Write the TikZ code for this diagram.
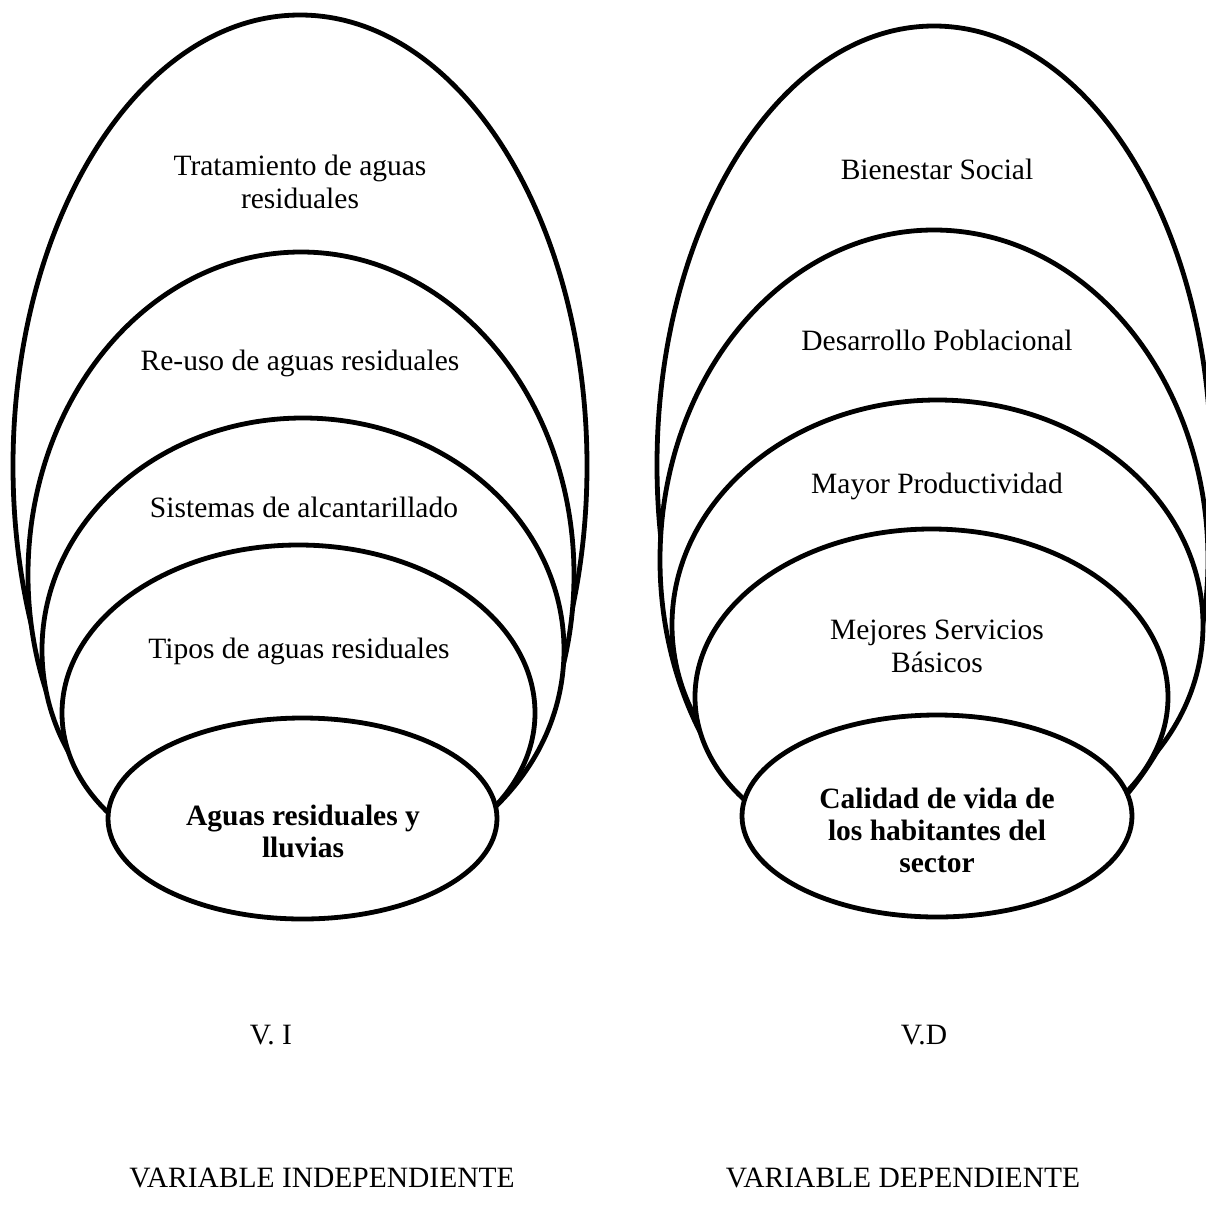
\documentclass[tikz,border=0pt]{standalone}
\usepackage{fontspec}
\setmainfont{Liberation Serif}
\usetikzlibrary{shapes.geometric}
\begin{document}
\begin{tikzpicture}[x=1pt,y=-1pt,
  ring/.style={ellipse,draw=black,fill=white,line width=4.8pt,inner sep=0pt,outer sep=0pt},
  lbl/.style={align=center,inner sep=0pt,font=\fontsize{29.5}{33}\selectfont},
  blbl/.style={lbl,font=\fontsize{29.5}{32}\selectfont\bfseries}]
\useasboundingbox[fill=white] (0,0) rectangle (1206,1208);
% left group
\node[ring,minimum width=574pt,minimum height=902pt] (L1) at (300,466) {};
\node[ring,minimum width=546pt,minimum height=646pt] (L2) at (301,575) {};
\node[ring,minimum width=522pt,minimum height=464pt] (L3) at (303,650) {};
\node[ring,minimum width=473pt,minimum height=336pt] (L4) at (298.5,713) {};
\node[ring,minimum width=389pt,minimum height=201pt] (L5) at (302.5,818.5) {};
% right group
\node[ring,minimum width=554pt,minimum height=878pt] (R1) at (934,465) {};
\node[ring,minimum width=548pt,minimum height=660pt] (R2) at (934,560) {};
\node[ring,minimum width=531pt,minimum height=450pt] (R3) at (937.5,625) {};
\node[ring,minimum width=473pt,minimum height=336pt] (R4) at (931.5,697) {};
\node[ring,minimum width=390pt,minimum height=202pt] (R5) at (937,816) {};
% texts left
\node[lbl] (tL1) at (300,182) {Tratamiento de aguas\\residuales};
\node[lbl] (tL2) at (300,363) {Re-uso de aguas residuales};
\node[lbl] (tL3) at (304,507) {Sistemas de alcantarillado};
\node[lbl] (tL4) at (299,651) {Tipos de aguas residuales};
\node[blbl] (tL5) at (303,831) {Aguas residuales y\\lluvias};
% texts right
\node[lbl] (tR1) at (937,169) {Bienestar Social};
\node[lbl] (tR2) at (937,340) {Desarrollo Poblacional};
\node[lbl] (tR3) at (937,486) {Mayor Productividad};
\node[lbl] (tR4) at (937,646) {Mejores Servicios\\Básicos};
\node[blbl] (tR5) at (937,830) {Calidad de vida de\\los habitantes del\\sector};
% bottom labels
\node[lbl] (vi) at (271,1035) {V. I};
\node[lbl] (vd) at (924,1035) {V.D};
\node[lbl] (vin) at (322,1178) {VARIABLE INDEPENDIENTE};
\node[lbl] (vdn) at (903,1178) {VARIABLE DEPENDIENTE};
\end{tikzpicture}
\end{document}
